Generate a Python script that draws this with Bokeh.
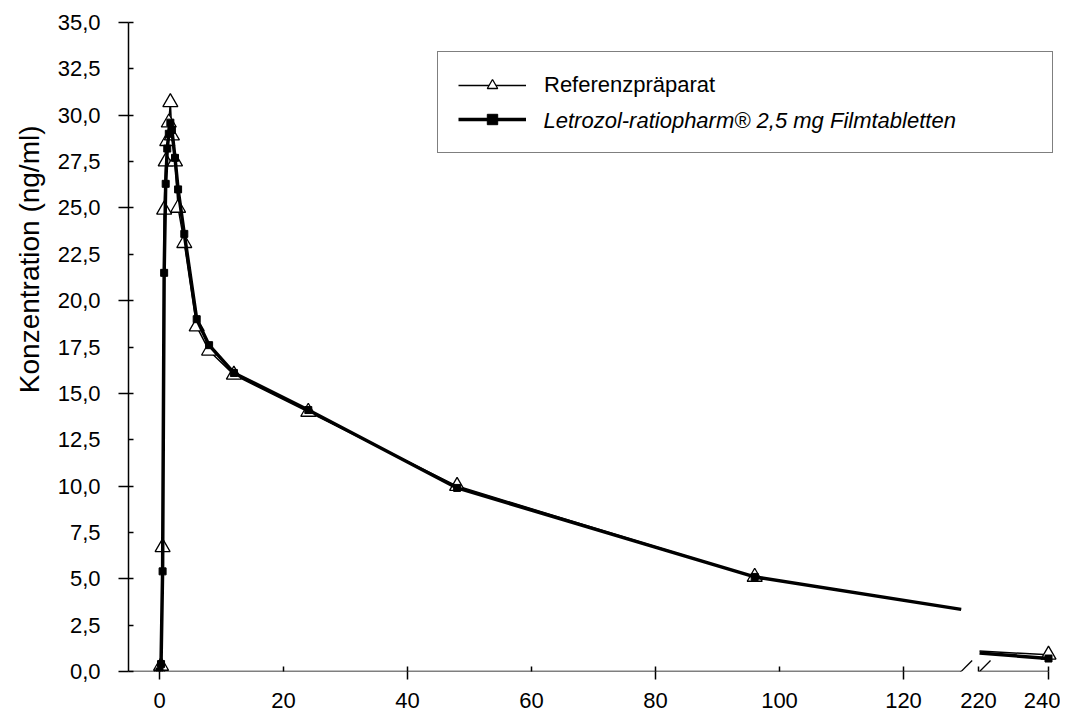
from bokeh.plotting import figure
from bokeh.models import (Range1d, FixedTicker, CustomJSTickFormatter, Legend,
                          LegendItem, Arrow, Title)
from bokeh.core.properties import value
from bokeh.embed import file_html
from bokeh.resources import INLINE

# ---------------- data ----------------
hours = [0, 0.25, 0.5, 0.75, 1, 1.25, 1.5, 1.75, 2, 2.5, 3, 4, 6, 8, 12, 24, 48, 96, 240]
ref_conc = [0.0, 0.3, 6.7, 24.9, 27.5, 28.6, 29.6, 30.7, 28.9, 27.5, 25.0, 23.1,
            18.6, 17.3, 16.0, 14.0, 10.0, 5.1, 0.9]
test_conc = [0.0, 0.4, 5.4, 21.5, 26.3, 28.2, 29.0, 29.6, 29.2, 27.7, 26.0, 23.6,
             19.0, 17.6, 16.1, 14.1, 9.9, 5.1, 0.7]
# where the curves meet the axis break (left edge, right edge)
break_hours = [129.3, 220.3]
ref_break = [3.35, 1.1]
test_break = [3.35, 1.0]

y_ticks = [i * 2.5 for i in range(15)]
y_out_ticks = [i * 5.0 for i in range(8)]
x_tick_hours = [0, 20, 40, 60, 80, 100, 120, 220, 240]
x_out_hours = [0, 40, 80, 120, 240]

ref_label = "Referenzpräparat"
test_label = "Letrozol-ratiopharm® 2,5 mg Filmtabletten"
y_title = "Konzentration (ng/ml)"

# ---------------- layout constants ----------------
FONT = "Liberation Sans"
FS = "22px"
FRAME_W, FRAME_H = 930, 649
LEFT = (-5.0, 145.0)
TAIL = (240 - 920 / 3.5, 240 - 920 / 3.5 + FRAME_W / 3.5)
CUT = 200
PX_X = FRAME_W / (LEFT[1] - LEFT[0])
PX_Y = FRAME_H / 35.0


def on_axis(h):
    if h < CUT:
        return float(h)
    return round(LEFT[0] + (h - TAIL[0]) * (LEFT[1] - LEFT[0]) / (TAIL[1] - TAIL[0]), 4)


p = figure(frame_width=FRAME_W, frame_height=FRAME_H,
           x_range=Range1d(*LEFT), y_range=Range1d(0, 35),
           output_backend="svg", toolbar_location=None,
           min_border_left=128, min_border_right=2, min_border_top=22, min_border_bottom=49)
p.extra_x_ranges = {"tail": Range1d(*TAIL)}
p.grid.visible = False
p.outline_line_color = None
p.background_fill_color = "white"
p.border_fill_color = "white"

# ---------------- series ----------------
lh = [h for h in hours if h < CUT]
th = [h for h in hours if h > CUT]
ref_l = [v for h, v in zip(hours, ref_conc) if h < CUT]
ref_t = [v for h, v in zip(hours, ref_conc) if h > CUT]
test_l = [v for h, v in zip(hours, test_conc) if h < CUT]
test_t = [v for h, v in zip(hours, test_conc) if h > CUT]

ref_line = p.line(lh + [break_hours[0]], ref_l + [ref_break[0]], line_color="black", line_width=1.5)
p.line([break_hours[1]] + th, [ref_break[1]] + ref_t, line_color="black", line_width=1.5,
       x_range_name="tail")
ref_pts = p.scatter(lh, ref_l, marker="triangle", size=15, fill_color="white",
                    line_color="black", line_width=1.3)
p.scatter(th, ref_t, marker="triangle", size=15, fill_color="white", line_color="black",
          line_width=1.3, x_range_name="tail")

test_line = p.line(lh + [break_hours[0]], test_l + [test_break[0]], line_color="black", line_width=3.5)
p.line([break_hours[1]] + th, [test_break[1]] + test_t, line_color="black", line_width=3.5,
       x_range_name="tail")
test_pts = p.scatter(lh, test_l, marker="square", size=7, fill_color="black", line_color="black")
p.scatter(th, test_t, marker="square", size=7, fill_color="black", line_color="black",
          x_range_name="tail")

# ---------------- axes ----------------
xa = p.xaxis[0]
xa.ticker = FixedTicker(ticks=[on_axis(h) for h in x_tick_hours],
                        minor_ticks=[on_axis(h) for h in x_out_hours])
xa.major_label_overrides = {on_axis(h): str(h) for h in x_tick_hours}
xa.axis_line_color = None
xa.major_tick_in = 5
xa.major_tick_out = 0
xa.minor_tick_in = 0
xa.minor_tick_out = 8
xa.major_tick_line_width = 1.5
xa.minor_tick_line_width = 1.5
xa.major_tick_line_color = "black"
xa.minor_tick_line_color = "black"
xa.major_label_text_font = FONT
xa.major_label_text_font_size = FS
xa.major_label_text_color = "black"
xa.major_label_standoff = 13

ya = p.yaxis[0]
ya.ticker = FixedTicker(ticks=y_ticks, minor_ticks=y_out_ticks)
ya.formatter = CustomJSTickFormatter(code="return tick.toFixed(1).replace('.', ',');")
ya.axis_line_color = "black"
ya.axis_line_width = 1.5
ya.major_tick_in = 5
ya.major_tick_out = 0
ya.minor_tick_in = 0
ya.minor_tick_out = 10
ya.major_tick_line_width = 1.5
ya.minor_tick_line_width = 1.5
ya.major_tick_line_color = "black"
ya.minor_tick_line_color = "black"
ya.major_label_text_font = FONT
ya.major_label_text_font_size = FS
ya.major_label_text_color = "black"
ya.major_label_standoff = 18

# y title as a side title so it can sit higher than the frame centre
p.add_layout(Title(text=y_title, align="right", offset=103, standoff=20,
                   text_font=FONT, text_font_size="28px", text_font_style="normal",
                   text_color="black"), "left")

# x axis line pieces and break marks
p.add_layout(Arrow(end=None, x_start=LEFT[0], y_start=0, x_end=break_hours[0], y_end=0,
                   line_color="black", line_width=1.5))
p.add_layout(Arrow(end=None, x_start=break_hours[1], y_start=0, x_end=240, y_end=0,
                   line_color="black", line_width=1.5, x_range_name="tail"))
dxl = 11 / PX_X
dxt = 11 / 3.5
dy = 11 / PX_Y
p.add_layout(Arrow(end=None, x_start=break_hours[0] - dxl, y_start=-dy,
                   x_end=break_hours[0] + dxl, y_end=dy, line_color="black", line_width=1.3))
p.add_layout(Arrow(end=None, x_start=break_hours[1] - dxt, y_start=-dy,
                   x_end=break_hours[1] + dxt, y_end=dy, line_color="black", line_width=1.3,
                   x_range_name="tail"))

# ---------------- legend ----------------
legend = Legend(items=[LegendItem(label=ref_label, renderers=[ref_line, ref_pts]),
                       LegendItem(label=" ", renderers=[test_line, test_pts])],
                location=(309, 518), orientation="vertical",
                border_line_color="black", border_line_width=1.5,
                background_fill_alpha=0.0,
                padding=20, spacing=8, margin=0,
                label_height=26, glyph_height=26, glyph_width=68,
                label_standoff=18, label_width=488,
                label_text_font=FONT, label_text_font_size=FS, label_text_color="black")
p.add_layout(legend)

lx = (543 - 128) / PX_X + LEFT[0]
ly = (671 - 120) / PX_Y
p.text(x=[lx], y=[ly], text=[test_label], text_font=value(FONT), text_font_size=FS,
       text_font_style="italic", text_color="black", text_baseline="middle",
       text_align="left")

open("out.html", "w").write(file_html(p, INLINE))
